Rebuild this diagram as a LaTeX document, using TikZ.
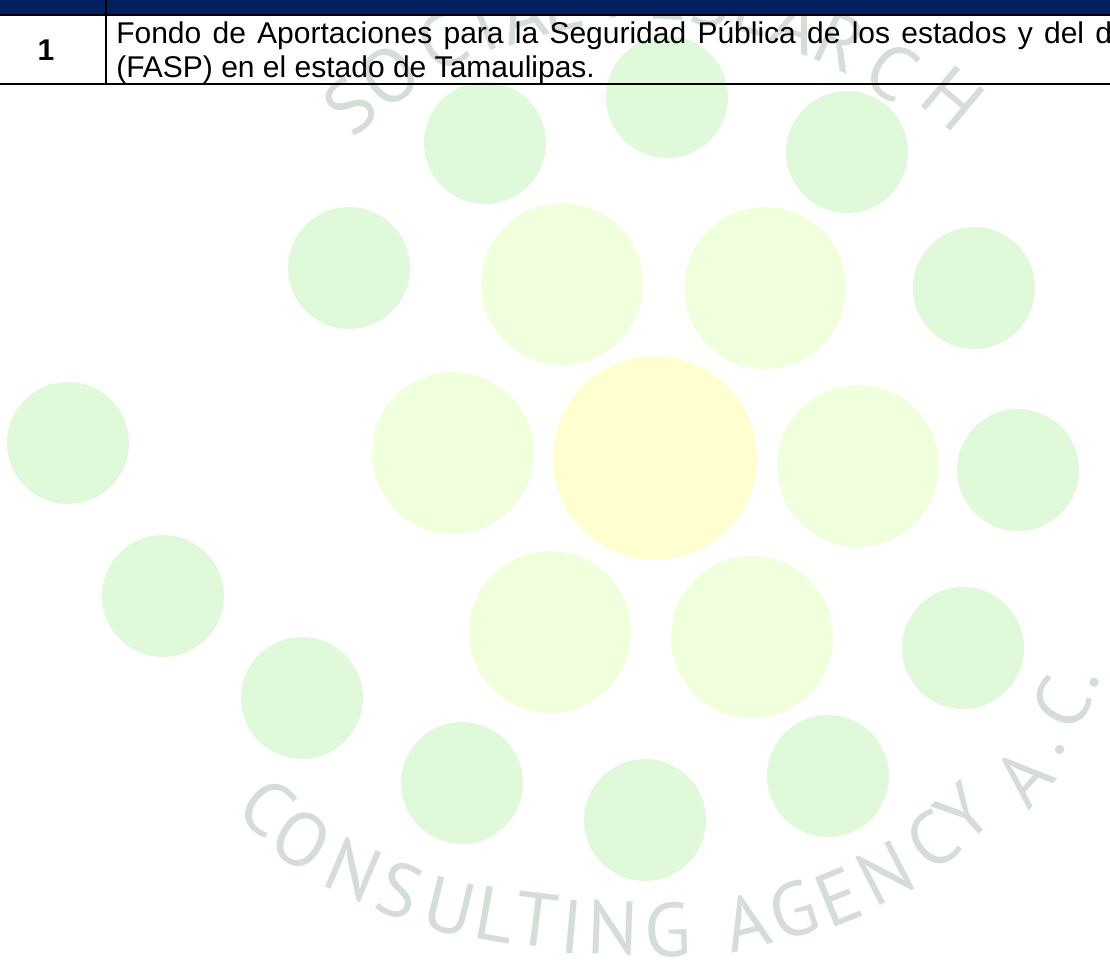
\documentclass[tikz,border=0pt]{standalone}
\usepackage{fontspec}
\setmainfont{Liberation Sans}
\newfontfamily\wmfont{PT Sans}
\definecolor{hdrblue}{HTML}{002060}
\definecolor{dotgreen}{HTML}{E1F9DB}
\definecolor{dotlime}{HTML}{F0FFDC}
\definecolor{dotyellow}{HTML}{FFFED0}
\definecolor{wmgrey}{HTML}{D5DDD7}
\tikzset{
  wm/.style={inner sep=0pt,text=wmgrey,font=\wmfont\fontsize{57}{57}\selectfont},
  cell/.style={inner sep=0pt,anchor=base west,font=\fontsize{22.5}{25.5}\selectfont},
  rulebk/.style={draw=black,line width=1.5pt}
}
\begin{document}
\begin{tikzpicture}[x=0.75pt,y=-0.75pt]
\useasboundingbox (0,0) rectangle (1110,972);
\clip (0,0) rectangle (1110,972);
% watermark
\foreach \x/\y/\r/\t in {
 350/106/41/S,390/76/35/O,442/42/28/C,484/25/22/I,522/14/17/A,560/4/12/L,
 625/-10/3/R,668/-7/-3/E,712/-1/-9/S,755/8/-14/E,797/24/-20/A,840/42/-25/R,892/71/-32/C,953/99/-40/H,
 267/807/-40/C,302/840/-32/O,353/870/-23/N,400/890/-20/S,450/907/-14/U,495/915/-10/L,537/920/-7/T,572/927/-5/I,613/928/-2/N,668/930/2/G,
 747/922/14/A,793/910/18/G,838/897/22/E,885/873/27/N,932/840/36/C,963/813/42/Y,1023/777/48/A,1060/750/50/.,1061/703/60/C,1095/683/60/.}
  \node[wm,rotate=\r] at (\x,\y) {\t};
% circles
\foreach \x/\y in {68/443,163/596,302/698,462/783,645/820,828/776,963/648,1018/470,974/288,847/152,667/97,485/143,349/268}
  \fill[dotgreen] (\x,\y) circle[radius=61];
\foreach \x/\y in {562/284,765/288,453/453,858/466,550/632,752/637}
  \fill[dotlime] (\x,\y) circle[radius=81];
\fill[dotyellow] (655,458) circle[radius=102];
% table
\fill[hdrblue] (0,0) rectangle (1110,14);
\draw[rulebk] (0,15) -- (1110,15);
\draw[rulebk] (0,84) -- (1110,84);
\draw[rulebk] (106,0) -- (106,84);
\node[cell,anchor=base,font=\fontsize{22.5}{25.5}\selectfont\bfseries] (num) at (46,60) {1};
\node[cell] (line1) at (116,43) {\makebox[747pt][s]{Fondo de Aportaciones para la Seguridad Pública de los estados y del d}};
\node[cell] (line2) at (116,77) {(FASP) en el estado de Tamaulipas.};
\end{tikzpicture}
\end{document}
